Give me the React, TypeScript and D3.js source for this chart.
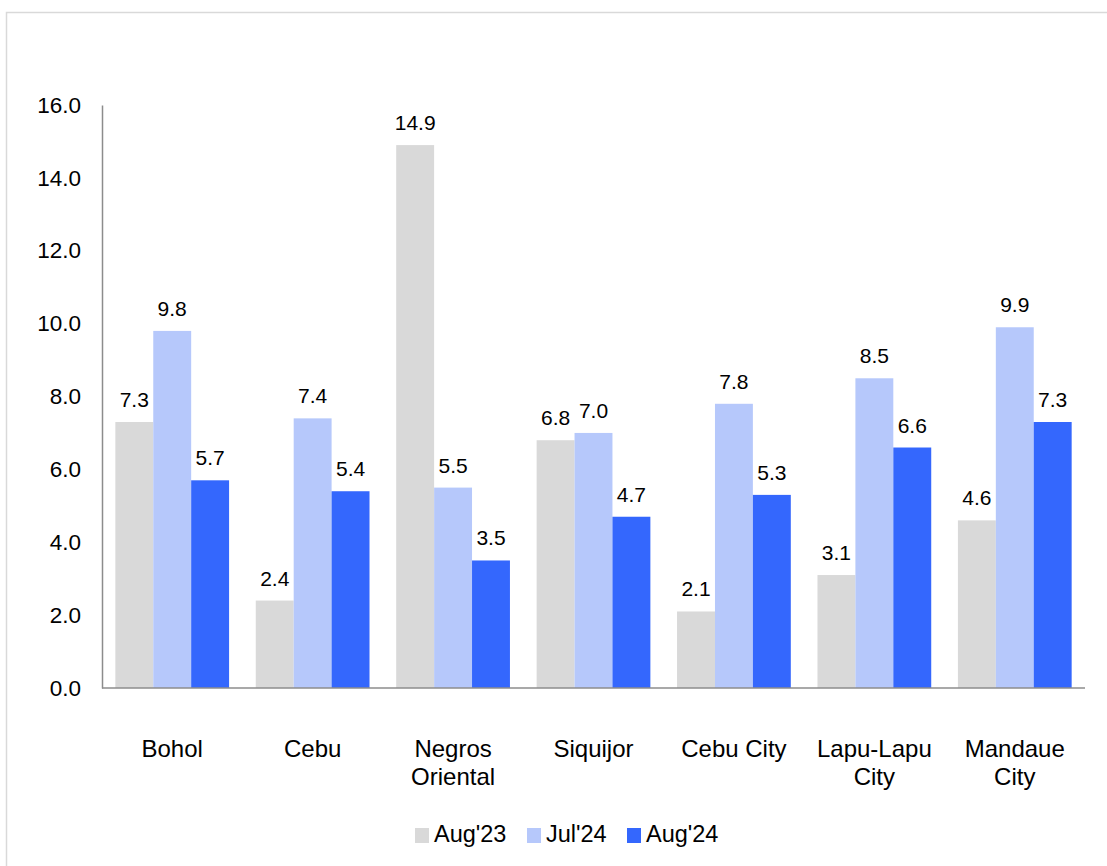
import { useEffect, useRef } from "react"
import * as d3 from "d3"

const provinces = ["Bohol", "Cebu", "Negros Oriental", "Siquijor", "Cebu City", "Lapu-Lapu City", "Mandaue City"]
const provinceLines = [["Bohol"], ["Cebu"], ["Negros", "Oriental"], ["Siquijor"], ["Cebu City"], ["Lapu-Lapu", "City"], ["Mandaue", "City"]]
const seriesNames = ["Aug'23", "Jul'24", "Aug'24"]
const aug23 = [7.3, 2.4, 14.9, 6.8, 2.1, 3.1, 4.6]
const jul24 = [9.8, 7.4, 5.5, 7.0, 7.8, 8.5, 9.9]
const aug24 = [5.7, 5.4, 3.5, 4.7, 5.3, 6.6, 7.3]
const yTicks = [0, 2, 4, 6, 8, 10, 12, 14, 16]

const colors = ["#d9d9d9", "#b6c8fb", "#3467fd"]
const FONT = "'Liberation Sans', Arial, sans-serif"

export default function App() {
    const ref = useRef<SVGSVGElement | null>(null)

    useEffect(() => {
        const width = 1107, height = 866
        const margin = { top: 105, left: 102, bottom: 178, right: 22 }
        const svg = d3.select(ref.current)
        svg.selectAll("*").remove()

        // outer frame (runs off the right/bottom edge)
        svg.append("rect")
            .attr("x", 6.5).attr("y", 12.5)
            .attr("width", 1200).attr("height", 1000)
            .attr("fill", "white")
            .attr("stroke", "#d9d9d9")
            .attr("stroke-width", 1.5)

        const innerH = height - margin.top - margin.bottom
        const x0 = d3.scaleBand()
            .domain(provinces)
            .range([margin.left, width - margin.right])
            .paddingInner(0.19)
            .paddingOuter(0.095)

        const x1 = d3.scaleBand()
            .domain(seriesNames)
            .range([0, x0.bandwidth()])

        const y = d3.scaleLinear()
            .domain([0, 16])
            .range([margin.top + innerH, margin.top])

        const series = [aug23, jul24, aug24]
        const rows = provinces.flatMap((p, i) =>
            seriesNames.map((s, j) => ({ p, s, j, v: series[j][i] })))

        const g = svg.append("g")

        g.selectAll(".bar")
            .data(rows)
            .join("rect")
            .attr("class", "bar")
            .attr("x", (d) => x0(d.p)! + x1(d.s)!)
            .attr("y", (d) => y(d.v))
            .attr("width", x1.bandwidth())
            .attr("height", (d) => y(0) - y(d.v))
            .attr("fill", (d) => colors[d.j])

        g.selectAll(".val")
            .data(rows)
            .join("text")
            .attr("class", "val")
            .attr("x", (d) => x0(d.p)! + x1(d.s)! + x1.bandwidth() / 2)
            .attr("y", (d) => y(d.v) - 15)
            .attr("text-anchor", "middle")
            .style("font-family", FONT)
            .style("font-size", "21px")
            .attr("fill", "#000")
            .text((d) => d.v.toFixed(1))

        // y axis
        const yAxis = d3.axisLeft(y).tickValues(yTicks).tickSize(0).tickPadding(21)
            .tickFormat((d) => (d as number).toFixed(1))
        const ya = svg.append("g")
            .attr("transform", `translate(${margin.left},0)`)
            .call(yAxis)
        ya.select(".domain").attr("stroke", "#8c8c8c").attr("stroke-width", 1.5)
        ya.selectAll("text")
            .style("font-family", FONT)
            .style("font-size", "22.5px")
            .attr("fill", "#000")

        // x axis line
        svg.append("line")
            .attr("x1", margin.left).attr("x2", width - margin.right)
            .attr("y1", y(0)).attr("y2", y(0))
            .attr("stroke", "#8c8c8c")
            .attr("stroke-width", 1.5)

        // category labels
        const cat = svg.append("g")
        provinces.forEach((p, i) => {
            const t = cat.append("text")
                .attr("x", x0(p)! + x0.bandwidth() / 2)
                .attr("y", 757)
                .attr("text-anchor", "middle")
                .style("font-family", FONT)
                .style("font-size", "24px")
                .attr("fill", "#000")
            provinceLines[i].forEach((line, k) => {
                t.append("tspan")
                    .attr("x", x0(p)! + x0.bandwidth() / 2)
                    .attr("dy", k === 0 ? 0 : 28)
                    .text(line)
            })
        })

        // legend
        const legendX = [415, 527, 627]
        const legend = svg.append("g")
        seriesNames.forEach((s, j) => {
            legend.append("rect")
                .attr("x", legendX[j]).attr("y", 828)
                .attr("width", 14).attr("height", 15)
                .attr("fill", colors[j])
            legend.append("text")
                .attr("x", legendX[j] + 19).attr("y", 842)
                .style("font-family", FONT)
                .style("font-size", "23.5px")
                .attr("fill", "#000")
                .text(s)
        })
    }, [])

    return (
        <div style={{ position: "absolute", left: 0, top: 0 }}>
            <svg ref={ref} width={1107} height={866} style={{ display: "block" }}></svg>
        </div>
    )
}
